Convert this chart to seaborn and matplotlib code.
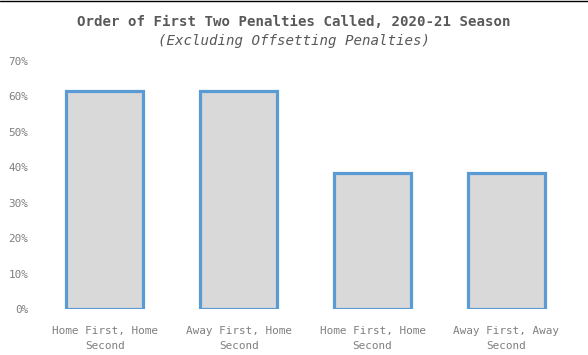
import seaborn as sns
import matplotlib.pyplot as plt
from matplotlib.lines import Line2D
from matplotlib.ticker import PercentFormatter

categories = ["Home First, Home\nSecond", "Away First, Home\nSecond",
              "Home First, Home\nSecond", "Away First, Away\nSecond"]
shares = [0.615, 0.615, 0.385, 0.385]
yticks = [0, 0.1, 0.2, 0.3, 0.4, 0.5, 0.6, 0.7]

sns.set_style("white")
plt.rcParams['font.family'] = ['DejaVu Sans Mono', 'DejaVu Sans']

fig = plt.figure(figsize=(5.88, 3.55), dpi=100)
ax = fig.add_axes([0.0646, 0.1296, 0.9104, 0.6984])

# positions are category slots so the duplicated label text stays separate
sns.barplot(x=list(range(len(categories))), y=shares, ax=ax, color="#D9D9D9",
            saturation=1, edgecolor="#5B9BD5", linewidth=2.3, width=0.575)

ax.set_xlim(-0.5, len(categories) - 0.5)
ax.set_ylim(0, 0.7)
ax.set_yticks(yticks)
ax.yaxis.set_major_formatter(PercentFormatter(1.0, decimals=0))
ax.set_xticks(range(len(categories)))
ax.set_xticklabels(categories, linespacing=1.7)
ax.tick_params(axis='both', length=0, labelsize=7.9, labelcolor="#7F7F7F")
ax.tick_params(axis='y', pad=7)
ax.tick_params(axis='x', pad=12)
for s in ax.spines.values():
  s.set_visible(False)
ax.grid(False)

fig.text(0.5, 1 - 21.5 / 355, "Order of First Two Penalties Called, 2020-21 Season",
         ha='center', va='center', fontsize=10.2, fontweight='bold', color="#595959")
fig.text(0.5, 1 - 41.5 / 355, "(Excluding Offsetting Penalties)",
         ha='center', va='center', fontsize=10.2, style='italic', color="#595959")
fig.add_artist(Line2D([0, 1], [1 - 1 / 355, 1 - 1 / 355], color='black',
                      lw=1, transform=fig.transFigure))

plt.savefig("out.png", dpi=100)
